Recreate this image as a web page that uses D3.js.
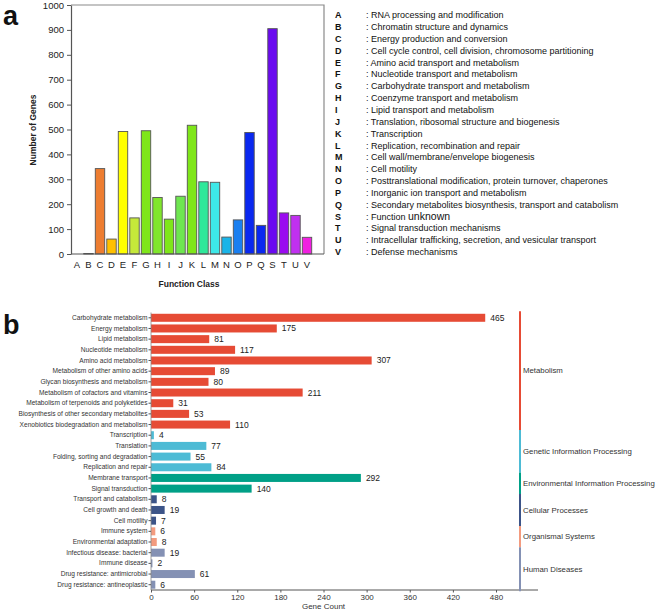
<!DOCTYPE html>
<html><head><meta charset="utf-8">
<script src="https://cdn.jsdelivr.net/npm/d3@7"></script>
<style>body{margin:0;background:#fff}svg{display:block;font-family:"Liberation Sans",Arial,sans-serif}</style>
</head><body>
<svg id="c" width="669" height="611"></svg>
<script>
// ---- Panel a data ----
const cogLetters = ["A","B","C","D","E","F","G","H","I","J","K","L","M","N","O","P","Q","S","T","U","V"];
const cogValues  = [0,2,343,60,492,145,495,227,140,232,517,290,288,68,137,488,115,905,165,155,67];
const cogColors  = ["#888888","#222222","#ed7d31","#ffc000","#ffff00","#c5e83a","#7fe61a","#80e62c","#7fe61a","#6ee650","#7fe61a","#2ee89a","#3de8e8","#1ab4e8","#1a7ff0","#0a28f0","#0a28f0","#6a0af0","#9a0af0","#c030f0","#f020e0"];
const cogNames   = ["RNA processing and modification","Chromatin structure and dynamics","Energy production and conversion","Cell cycle control, cell division, chromosome partitioning","Amino acid transport and metabolism","Nucleotide transport and metabolism","Carbohydrate transport and metabolism","Coenzyme transport and metabolism","Lipid transport and metabolism","Translation, ribosomal structure and biogenesis","Transcription","Replication, recombination and repair","Cell wall/membrane/envelope biogenesis","Cell motility","Posttranslational modification, protein turnover, chaperones","Inorganic ion transport and metabolism","Secondary metabolites biosynthesis, transport and catabolism","Function unknown","Signal transduction mechanisms","Intracellular trafficking, secretion, and vesicular transport","Defense mechanisms"];
const cogTicks   = [0,100,200,300,400,500,600,700,800,900,1000];

// ---- Panel b data ----
const keggPathways = ["Carbohydrate metabolism","Energy metabolism","Lipid metabolism","Nucleotide metabolism","Amino acid metabolism","Metabolism of other amino acids","Glycan biosynthesis and metabolism","Metabolism of cofactors and vitamins","Metabolism of terpenoids and polyketides","Biosynthesis of other secondary metabolites","Xenobiotics biodegradation and metabolism","Transcription","Translation","Folding, sorting and degradation","Replication and repair","Membrane transport","Signal transduction","Transport and catabolism","Cell growth and death","Cell motility","Immune system","Environmental adaptation","Infectious disease: bacterial","Immune disease","Drug resistance: antimicrobial","Drug resistance: antineoplastic"];
const keggCounts = [465,175,81,117,307,89,80,211,31,53,110,4,77,55,84,292,140,8,19,7,6,8,19,2,61,6];
const keggGroupOf = [0,0,0,0,0,0,0,0,0,0,0,1,1,1,1,2,2,3,3,3,4,4,5,5,5,5];
const keggGroups = ["Metabolism","Genetic Information Processing","Environmental Information Processing","Cellular Processes","Organismal Systems","Human Diseases"];
const keggGroupColors = ["#e64b35","#4dbbd5","#00a087","#3c5488","#f39b7f","#8491b4"];
const keggTicks = [0,60,120,180,240,300,360,420,480];

const svg = d3.select("#c");

// ===== Panel a =====
const aLeft=71, aRight=324, aTop=5, aBottom=254;
const xa = d3.scaleBand().domain(cogLetters).range([71.25,312.75]).paddingInner(0.18).paddingOuter(0.09);
const ya = d3.scaleLinear().domain([0,1000]).range([aBottom,aTop]);
const ga = svg.append("g");
ga.append("path").attr("d",`M${aLeft},${aTop}H${aRight}V${aBottom}`).attr("fill","none").attr("stroke","#8a8a8a").attr("stroke-width",1.2);
ga.selectAll("rect.bar").data(cogLetters).join("rect")
  .attr("x",d=>xa(d)).attr("width",xa.bandwidth())
  .attr("y",(d,i)=>ya(cogValues[i])).attr("height",(d,i)=>ya(0)-ya(cogValues[i]))
  .attr("fill",(d,i)=>cogColors[i]).attr("stroke",(d,i)=>cogValues[i]>0?"#555":"none").attr("stroke-width",0.9);
const yAxA = ga.append("g").attr("transform",`translate(${aLeft},0)`)
  .call(d3.axisLeft(ya).tickValues(cogTicks).tickFormat(d3.format("d")).tickSize(4).tickSizeOuter(0));
yAxA.select(".domain").attr("stroke","#555").attr("stroke-width",1.2);
yAxA.selectAll("line").attr("stroke","#555");
yAxA.selectAll("text").attr("font-size",9.5).attr("fill","#222").attr("x",-7);
const xAxA = ga.append("g").attr("transform",`translate(0,${aBottom})`)
  .call(d3.axisBottom(xa).tickSize(0).tickSizeOuter(0));
xAxA.select(".domain").remove();
ga.append("line").attr("x1",aLeft).attr("x2",aRight).attr("y1",aBottom).attr("y2",aBottom).attr("stroke","#555").attr("stroke-width",1.2);
xAxA.selectAll("text").attr("font-size",9.5).attr("fill","#222").attr("dy","1.15em");
ga.append("text").attr("transform","translate(36,130) rotate(-90)").attr("text-anchor","middle")
  .attr("font-size",8.5).attr("font-weight","bold").attr("fill","#222").text("Number of Genes");
ga.append("text").attr("x",189).attr("y",287).attr("text-anchor","middle")
  .attr("font-size",8.5).attr("font-weight","bold").attr("fill","#222").text("Function Class");
svg.append("text").attr("x",3).attr("y",25).attr("font-size",27).attr("font-weight","bold").attr("fill","#111").text("a");

// legend
const ly = d3.scalePoint().domain(cogLetters).range([15,252]);
const lg = svg.append("g");
cogLetters.forEach((L,i)=>{
  lg.append("text").attr("x",335).attr("y",ly(L)).attr("dy","0.35em").attr("font-size",9).attr("font-weight","bold").attr("fill","#111").text(L);
  const t = lg.append("text").attr("x",366).attr("y",ly(L)).attr("dy","0.35em").attr("font-size",9).attr("fill","#111");
  if(L==="S"){ t.text(": Function "); t.append("tspan").attr("font-size",10.5).text("unknown"); }
  else t.text(": "+cogNames[i]);
});

// ===== Panel b =====
const bLeft=151, bAxisY=590;
const xb = d3.scaleLinear().domain([0,480]).range([bLeft,496]);
const yb = d3.scaleBand().domain(keggPathways).range([312.5,bAxisY]).paddingInner(0.25).paddingOuter(0.12);
const gb = svg.append("g");
gb.selectAll("rect.kb").data(keggPathways).join("rect")
  .attr("x",xb(0)).attr("y",d=>yb(d)).attr("height",yb.bandwidth())
  .attr("width",(d,i)=>xb(keggCounts[i])-xb(0))
  .attr("fill",(d,i)=>keggGroupColors[keggGroupOf[i]]);
gb.selectAll("text.val").data(keggPathways).join("text")
  .attr("x",(d,i)=>xb(keggCounts[i])+5).attr("y",d=>yb(d)+yb.bandwidth()/2).attr("dy","0.35em")
  .attr("font-size",8.5).attr("fill","#222").text((d,i)=>keggCounts[i]);
const yAxB = gb.append("g").attr("transform",`translate(${bLeft},0)`)
  .call(d3.axisLeft(yb).tickSize(2.5).tickSizeOuter(0));
yAxB.select(".domain").attr("stroke","#888").attr("stroke-width",0.8).attr("d",`M0,312.5V${bAxisY}`);
yAxB.selectAll("line").attr("stroke","#555");
yAxB.selectAll("text").attr("font-size",6.6).attr("fill","#333").attr("x",-3.5);
const xAxB = gb.append("g").attr("transform",`translate(0,${bAxisY})`)
  .call(d3.axisBottom(xb).tickValues(keggTicks).tickSize(2.5).tickSizeOuter(0));
xAxB.select(".domain").attr("stroke","#555").attr("d",`M${bLeft},0H538`);
xAxB.selectAll("line").attr("stroke","#555");
xAxB.selectAll("text").attr("font-size",8).attr("fill","#333").attr("dy","0.6em");
gb.append("text").attr("x",xb(240)).attr("y",609).attr("text-anchor","middle").attr("font-size",8).attr("fill","#333").text("Gene Count");
svg.append("text").attr("x",3).attr("y",334).attr("font-size",27).attr("font-weight","bold").attr("fill","#111").text("b");

keggGroups.forEach((g,gi)=>{
  const rows = keggPathways.filter((d,i)=>keggGroupOf[i]===gi);
  const first = rows[0], last = rows[rows.length-1];
  const step = yb.step();
  const y0 = yb(first) - (step-yb.bandwidth())/2 - (gi===0?step*0.12:0);
  const y1 = yb(last) + yb.bandwidth() + (step-yb.bandwidth())/2 + (gi===keggGroups.length-1?step*0.12:0);
  gb.append("line").attr("x1",520).attr("x2",520).attr("y1",y0).attr("y2",y1)
    .attr("stroke",keggGroupColors[gi]).attr("stroke-width",2);
  gb.append("text").attr("x",523).attr("y",(y0+y1)/2).attr("dy","0.35em").attr("font-size",7.8).attr("fill","#333").text(g);
});
</script>
</body></html>
